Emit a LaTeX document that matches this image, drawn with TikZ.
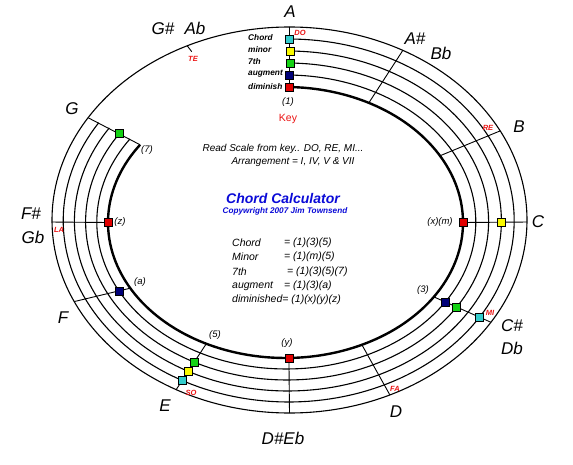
\documentclass[tikz,border=0pt]{standalone}
\usepackage{fontspec}
\setmainfont{Liberation Sans}
\definecolor{cyanc}{RGB}{51,204,204}
\definecolor{yellowc}{RGB}{250,250,0}
\definecolor{greenc}{RGB}{20,210,20}
\definecolor{navyc}{RGB}{0,0,120}
\definecolor{redc}{RGB}{225,0,0}
\definecolor{solred}{RGB}{235,20,20}
\definecolor{titleblue}{RGB}{10,10,215}
\begin{document}
\begin{tikzpicture}[x=1pt,y=-1pt,
  declare function={rx(\ringk,\ang)=289.5-0.8*(\ringk-1)+(237.5-12*(\ringk-1))*cos(\ang);
                    ry(\ringk,\ang)=220+0.5*(\ringk-1)-(193-11.5*(\ringk-1))*sin(\ang);},
  ring/.style={line width=1.1pt},
  spoke/.style={line width=0.9pt},
  sq/.style={draw=black,line width=0.5pt,minimum size=8pt,inner sep=0pt,fill=#1},
  notename/.style={font=\fontsize{17}{17}\selectfont\itshape,inner sep=0pt},
  solfa/.style={font=\fontsize{7.5}{7.5}\selectfont\bfseries\itshape,text=solred,inner sep=0pt},
  chordmark/.style={font=\fontsize{9.5}{9.5}\selectfont\itshape,inner sep=0pt},
  rowlbl/.style={font=\fontsize{8.3}{8.3}\selectfont\bfseries\itshape,anchor=west,inner sep=0pt},
  info/.style={font=\fontsize{10}{10}\selectfont\itshape,inner sep=0pt},
  formula/.style={font=\fontsize{10.5}{10.5}\selectfont\itshape,anchor=west,inner sep=0pt},
]
\useasboundingbox (0,0) rectangle (573,465);

% outer full ellipse
\draw[ring] (289.5,220) ellipse[x radius=237.5pt, y radius=193pt];

% inner rings from A clockwise to G
\foreach \k in {2,...,6} {
  \pgfmathsetmacro{\lo}{148-3*(\k-1)/5-360}
  \pgfmathsetmacro{\lw}{\k==6 ? 2.4 : 1.1}
  \draw[line width=\lw pt] plot[domain=\lo:90, samples=160, variable=\x] ({rx(\k,\x)},{ry(\k,\x)});
}

% spokes
\foreach \n/\ta/\tb in {A/90/88.7, As/61.5/62, B/27.5/29.5, C/-0.6/0, Cs/-32/-33.3, D/-65/-64.5, Ds/-90/-88.9, E/-118.5/-116.5, F/-155/-151, Fs/180.6/180, G/148/145} {
  \foreach \k in {1,...,6} {
    \pgfmathsetmacro{\tm}{\ta+(\tb-\ta)*(\k-1)/5}
    \coordinate (\n\k) at ({rx(\k,\tm)},{ry(\k,\tm)});
  }
  \draw[spoke] (\n1) -- (\n6);
}
% G# tick
\coordinate (Gs1) at ({rx(1,115.5)},{ry(1,115.5)});
\coordinate (Gs2) at ({rx(1.6,115)},{ry(1.6,115)});
\draw[spoke] (Gs1) -- (Gs2);

% squares
\node[sq=cyanc]   (sqA2) at (A2) {};
\node[sq=yellowc] (sqA3) at (A3) {};
\node[sq=greenc]  (sqA4) at (A4) {};
\node[sq=navyc]   (sqA5) at (A5) {};
\node[sq=redc]    (sqA6) at (A6) {};
\node[sq=yellowc] (sqC3) at (C3) {};
\node[sq=redc]    (sqC6) at (C6) {};
\node[sq=cyanc]   (sqCs2) at (Cs2) {};
\node[sq=greenc]  (sqCs4) at (Cs4) {};
\node[sq=navyc]   (sqCs5) at (Cs5) {};
\node[sq=redc]    (sqDs6) at (Ds6) {};
\node[sq=cyanc]   (sqE2) at (E2) {};
\node[sq=yellowc] (sqE3) at (E3) {};
\node[sq=greenc]  (sqE4) at (E4) {};
\node[sq=navyc]   (sqF5) at (F5) {};
\node[sq=redc]    (sqFs6) at (Fs6) {};
\node[sq=greenc]  (sqG4) at (G4) {};

% note names
\node[notename] (nA)  at (290,12)  {A};
\node[notename] (nGs) at (163,29)  {G\#};
\node[notename] (nAb) at (195,28)  {Ab};
\node[notename] (nAs) at (415,39)  {A\#};
\node[notename] (nBb) at (441,53)  {Bb};
\node[notename] (nB)  at (519,127) {B};
\node[notename] (nC)  at (538,222) {C};
\node[notename] (nCs) at (512,326) {C\#};
\node[notename] (nDb) at (512,348) {Db};
\node[notename] (nD)  at (396,412) {D};
\node[notename] (nDsEb) at (283,438) {D\#Eb};
\node[notename] (nE)  at (165,406) {E};
\node[notename] (nF)  at (63,318)  {F};
\node[notename] (nFs) at (31,214)  {F\#};
\node[notename] (nGb) at (33,237)  {Gb};
\node[notename] (nG)  at (72,109)  {G};

% solfa
\node[solfa] (sDO) at (300,33)  {DO};
\node[solfa] (sRE) at (488,128) {RE};
\node[solfa] (sMI) at (490,313) {MI};
\node[solfa] (sFA) at (395,389) {FA};
\node[solfa] (sSO) at (191,393) {SO};
\node[solfa] (sLA) at (59,230)  {LA};
\node[solfa] (sTE) at (193,59)  {TE};

% chord marks
\node[chordmark] (m1) at (288,102) {(1)};
\node[font=\fontsize{10.5}{10.5}\selectfont,text=solred,inner sep=0pt] (mKey) at (288,119) {Key};
\node[chordmark] (mxm) at (440,222) {(x)(m)};
\node[chordmark] (m3) at (423,290) {(3)};
\node[chordmark] (my) at (287,343) {(y)};
\node[chordmark] (m5) at (215,335) {(5)};
\node[chordmark] (ma) at (140,282) {(a)};
\node[chordmark] (mz) at (120,222) {(z)};
\node[chordmark] (m7) at (147,150) {(7)};

% row labels
\node[rowlbl] (rChord) at (248,38) {Chord};
\node[rowlbl] (rMinor) at (248,50) {minor};
\node[rowlbl] (r7th)   at (248,62) {7th};
\node[rowlbl] (rAug)   at (248,74) {augment};
\node[rowlbl] (rDim)   at (248,87) {diminish};

% centre texts
\node[info] (tRead) at (283,149) {Read Scale from key.. DO, RE, MI...};
\node[info] (tArr)  at (293,162) {Arrangement = I, IV, V \& VII};
\node[font=\fontsize{14}{14}\selectfont\bfseries\itshape,text=titleblue,inner sep=0pt] (tTitle) at (283,199) {Chord Calculator};
\node[font=\fontsize{8.2}{8.2}\selectfont\bfseries\itshape,text=titleblue,inner sep=0pt] (tCopy) at (285,211) {Copywright 2007 Jim Townsend};

% formulas
\node[formula] (fChord) at (232,243) {Chord};
\node[formula] (fChordE) at (284,243) {= (1)(3)(5)};
\node[formula] (fMinor) at (232,257) {Minor};
\node[formula] (fMinorE) at (284,257) {= (1)(m)(5)};
\node[formula] (f7th) at (232,272) {7th};
\node[formula] (f7thE) at (287,272) {= (1)(3)(5)(7)};
\node[formula] (fAug) at (232,286) {augment};
\node[formula] (fAugE) at (284,286) {= (1)(3)(a)};
\node[formula] (fDim) at (232,300) {diminished= (1)(x)(y)(z)};
\end{tikzpicture}
\end{document}
